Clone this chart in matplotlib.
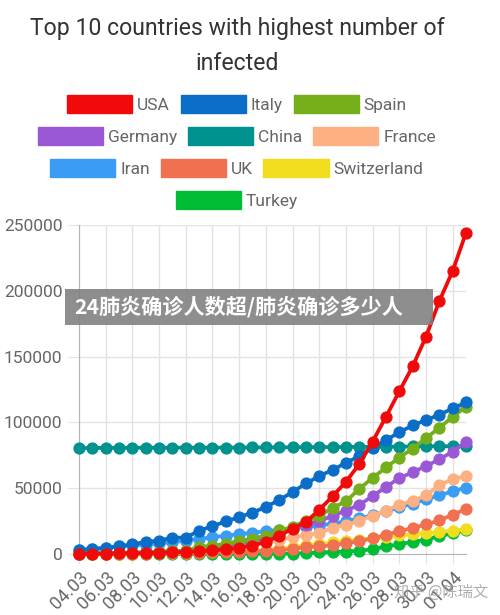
import matplotlib
matplotlib.use("Agg")
import matplotlib.pyplot as plt
from matplotlib.patches import Patch, Rectangle

# Data: confirmed cases, 04.03 - 02.04
########################################################################
dates = ["04.03", "05.03", "06.03", "07.03", "08.03", "09.03", "10.03", "11.03",
         "12.03", "13.03", "14.03", "15.03", "16.03", "17.03", "18.03", "19.03",
         "20.03", "21.03", "22.03", "23.03", "24.03", "25.03", "26.03", "27.03",
         "28.03", "29.03", "30.03", "31.03", "01.04", "02.04"]

usa = [153, 221, 319, 435, 541, 704, 994, 1301, 1630, 2183, 2770, 3613, 4596, 6344,
       9197, 13779, 19367, 24192, 33592, 43781, 54856, 68211, 85435, 104126, 123578,
       142483, 165064, 192147, 215003, 244008]
italy = [3089, 3858, 4636, 5883, 7375, 9172, 10149, 12462, 12462, 17660, 21157, 24747,
         27980, 31506, 35713, 41035, 47021, 53578, 59138, 63927, 69176, 74386, 80589,
         86498, 92472, 97689, 101739, 105792, 110574, 115242]
spain = [222, 259, 400, 500, 673, 1073, 1695, 2277, 2277, 5232, 6391, 7798, 9942, 11748,
         13910, 17963, 20410, 25374, 28768, 35136, 39885, 49515, 57786, 65719, 73235,
         80110, 87956, 95923, 104118, 112065]
germany = [262, 482, 670, 799, 1040, 1176, 1457, 1908, 2078, 3675, 4585, 5795, 7272,
           9257, 12327, 15320, 19848, 22213, 24873, 29056, 32986, 37323, 43938, 50871,
           57695, 62095, 66885, 71808, 77872, 84794]
china = [80422, 80573, 80652, 80699, 80735, 80757, 80785, 80793, 80801, 80827, 80849,
         80871, 80905, 80932, 80969, 81025, 81073, 81120, 81196, 81268, 81316, 81417,
         81470, 81572, 81628, 81699, 81776, 81865, 81935, 81986]
france = [286, 379, 653, 949, 1126, 1209, 1784, 2281, 2281, 3661, 4469, 4499, 6633,
          7652, 9043, 10871, 12612, 14282, 16018, 19856, 22304, 25233, 29155, 32964,
          37575, 40174, 44550, 52128, 56989, 59105]
iran = [2922, 3513, 4747, 5823, 6566, 7161, 8042, 9000, 10075, 11364, 12729, 13938,
        14991, 16169, 17361, 18407, 19644, 20610, 21638, 23049, 24811, 27017, 29406,
        32332, 35408, 38309, 41495, 44605, 47593, 50468]
uk = [86, 116, 164, 207, 274, 322, 384, 459, 459, 802, 1144, 1145, 1551, 1960, 2642,
      2716, 4014, 5067, 5745, 6726, 8164, 9640, 11812, 14745, 17312, 19780, 22453,
      25481, 29865, 34173]
switzerland = [90, 114, 214, 268, 337, 374, 491, 652, 652, 1139, 1359, 2200, 2200, 2700,
               3028, 4075, 5294, 6575, 7474, 8795, 9877, 10897, 11811, 12928, 14076,
               14829, 15922, 16605, 17768, 18827]
turkey = [0, 0, 0, 0, 0, 0, 0, 1, 1, 5, 5, 6, 18, 47, 98, 192, 359, 670, 1236, 1529,
          1872, 2433, 3629, 5698, 7402, 9217, 10827, 13531, 15679, 18135]

countries = ["USA", "Italy", "Spain", "Germany", "China", "France",
             "Iran", "UK", "Switzerland", "Turkey"]
series = [usa, italy, spain, germany, china, france, iran, uk, switzerland, turkey]
colours = ["#f00a0a", "#0a6ec8", "#74ae1a", "#9a58d6", "#00928f", "#fdb081",
           "#3a9cf4", "#f0704f", "#f2dc1e", "#00bd36"]

y_ticks = [0, 50000, 100000, 150000, 200000, 250000]

# Plot
########################################################################
plt.rcParams['font.family'] = ['Roboto', 'DejaVu Sans']

fig = plt.figure(figsize=(5.0, 6.15), dpi=100)
ax = fig.add_axes([0.158, 0.0992, 0.774, 0.535])

x = list(range(len(dates)))
for i, (name, vals, col) in enumerate(zip(countries, series, colours)):
    ax.plot(x, vals, color=col, lw=2.7, marker='o', ms=7.8, mec=col, mfc=col,
            zorder=20 - i, clip_on=False)

ax.set_xlim(0, len(dates) - 1)
ax.set_ylim(0, 250000)
ax.set_yticks(y_ticks)
ax.set_yticklabels([str(v) for v in y_ticks])
ax.set_xticks(x[::2])
ax.set_xticklabels(dates[::2], rotation=45, ha='right', va='top',
                   rotation_mode='anchor')

ax.grid(True, color='#e3e3e3', lw=1)
ax.set_axisbelow(True)
for side in ['top', 'right']:
    ax.spines[side].set_visible(False)
ax.spines['left'].set_color('#b5b5b5')
ax.spines['bottom'].set_color('#b5b5b5')
ax.tick_params(axis='both', colors='#e3e3e3', labelcolor='#666666', labelsize=12.5)
ax.tick_params(axis='y', length=8, pad=4)
ax.tick_params(axis='x', length=7, pad=3, labelsize=13)

# Title (whole header is centred a bit left of the figure middle)
cx = 237 / 500
fig.text(cx, 1 - 28 / 615, "Top 10 countries with highest number of",
         ha='center', va='center', fontsize=16.6, color='#333333')
fig.text(cx, 1 - 63 / 615, "infected",
         ha='center', va='center', fontsize=16.6, color='#333333')

# Legend, centred rows like the original
rows = [[0, 1, 2], [3, 4, 5], [6, 7, 8], [9]]
row_y = [104, 136, 168, 200]
for idx, yy in zip(rows, row_y):
    handles = [Patch(facecolor=colours[k], edgecolor=colours[k]) for k in idx]
    labels = [countries[k] for k in idx]
    leg = fig.legend(handles, labels, loc='center', bbox_to_anchor=(cx, 1 - yy / 615),
                     ncol=len(idx), frameon=False, fontsize=12.5,
                     handlelength=3.75, handleheight=1.3, handletextpad=0.3,
                     columnspacing=0.6, borderpad=0, borderaxespad=0)
    for t in leg.get_texts():
        t.set_color('#666666')

# Overlay banner
fig.patches.append(Rectangle((65 / 500, 1 - 325 / 615), 368 / 500, 36 / 615,
                             transform=fig.transFigure, facecolor='#7f7f7f',
                             alpha=0.88, edgecolor='none', zorder=50))
fig.text(74 / 500, 1 - 307 / 615, "24肺炎确诊人数超/肺炎确诊多少人",
         ha='left', va='center', fontsize=15.2, fontweight='bold', color='white',
         family=['Noto Sans CJK SC', 'DejaVu Sans'], zorder=51)

# Watermark
fig.text(488 / 500, 1 - 592 / 615, "知乎 @陈瑞文", ha='right', va='center',
         fontsize=11, color='#9a9a9a', alpha=0.8,
         family=['Noto Sans CJK SC', 'DejaVu Sans'], zorder=51)

fig.savefig("out.png", dpi=100)
